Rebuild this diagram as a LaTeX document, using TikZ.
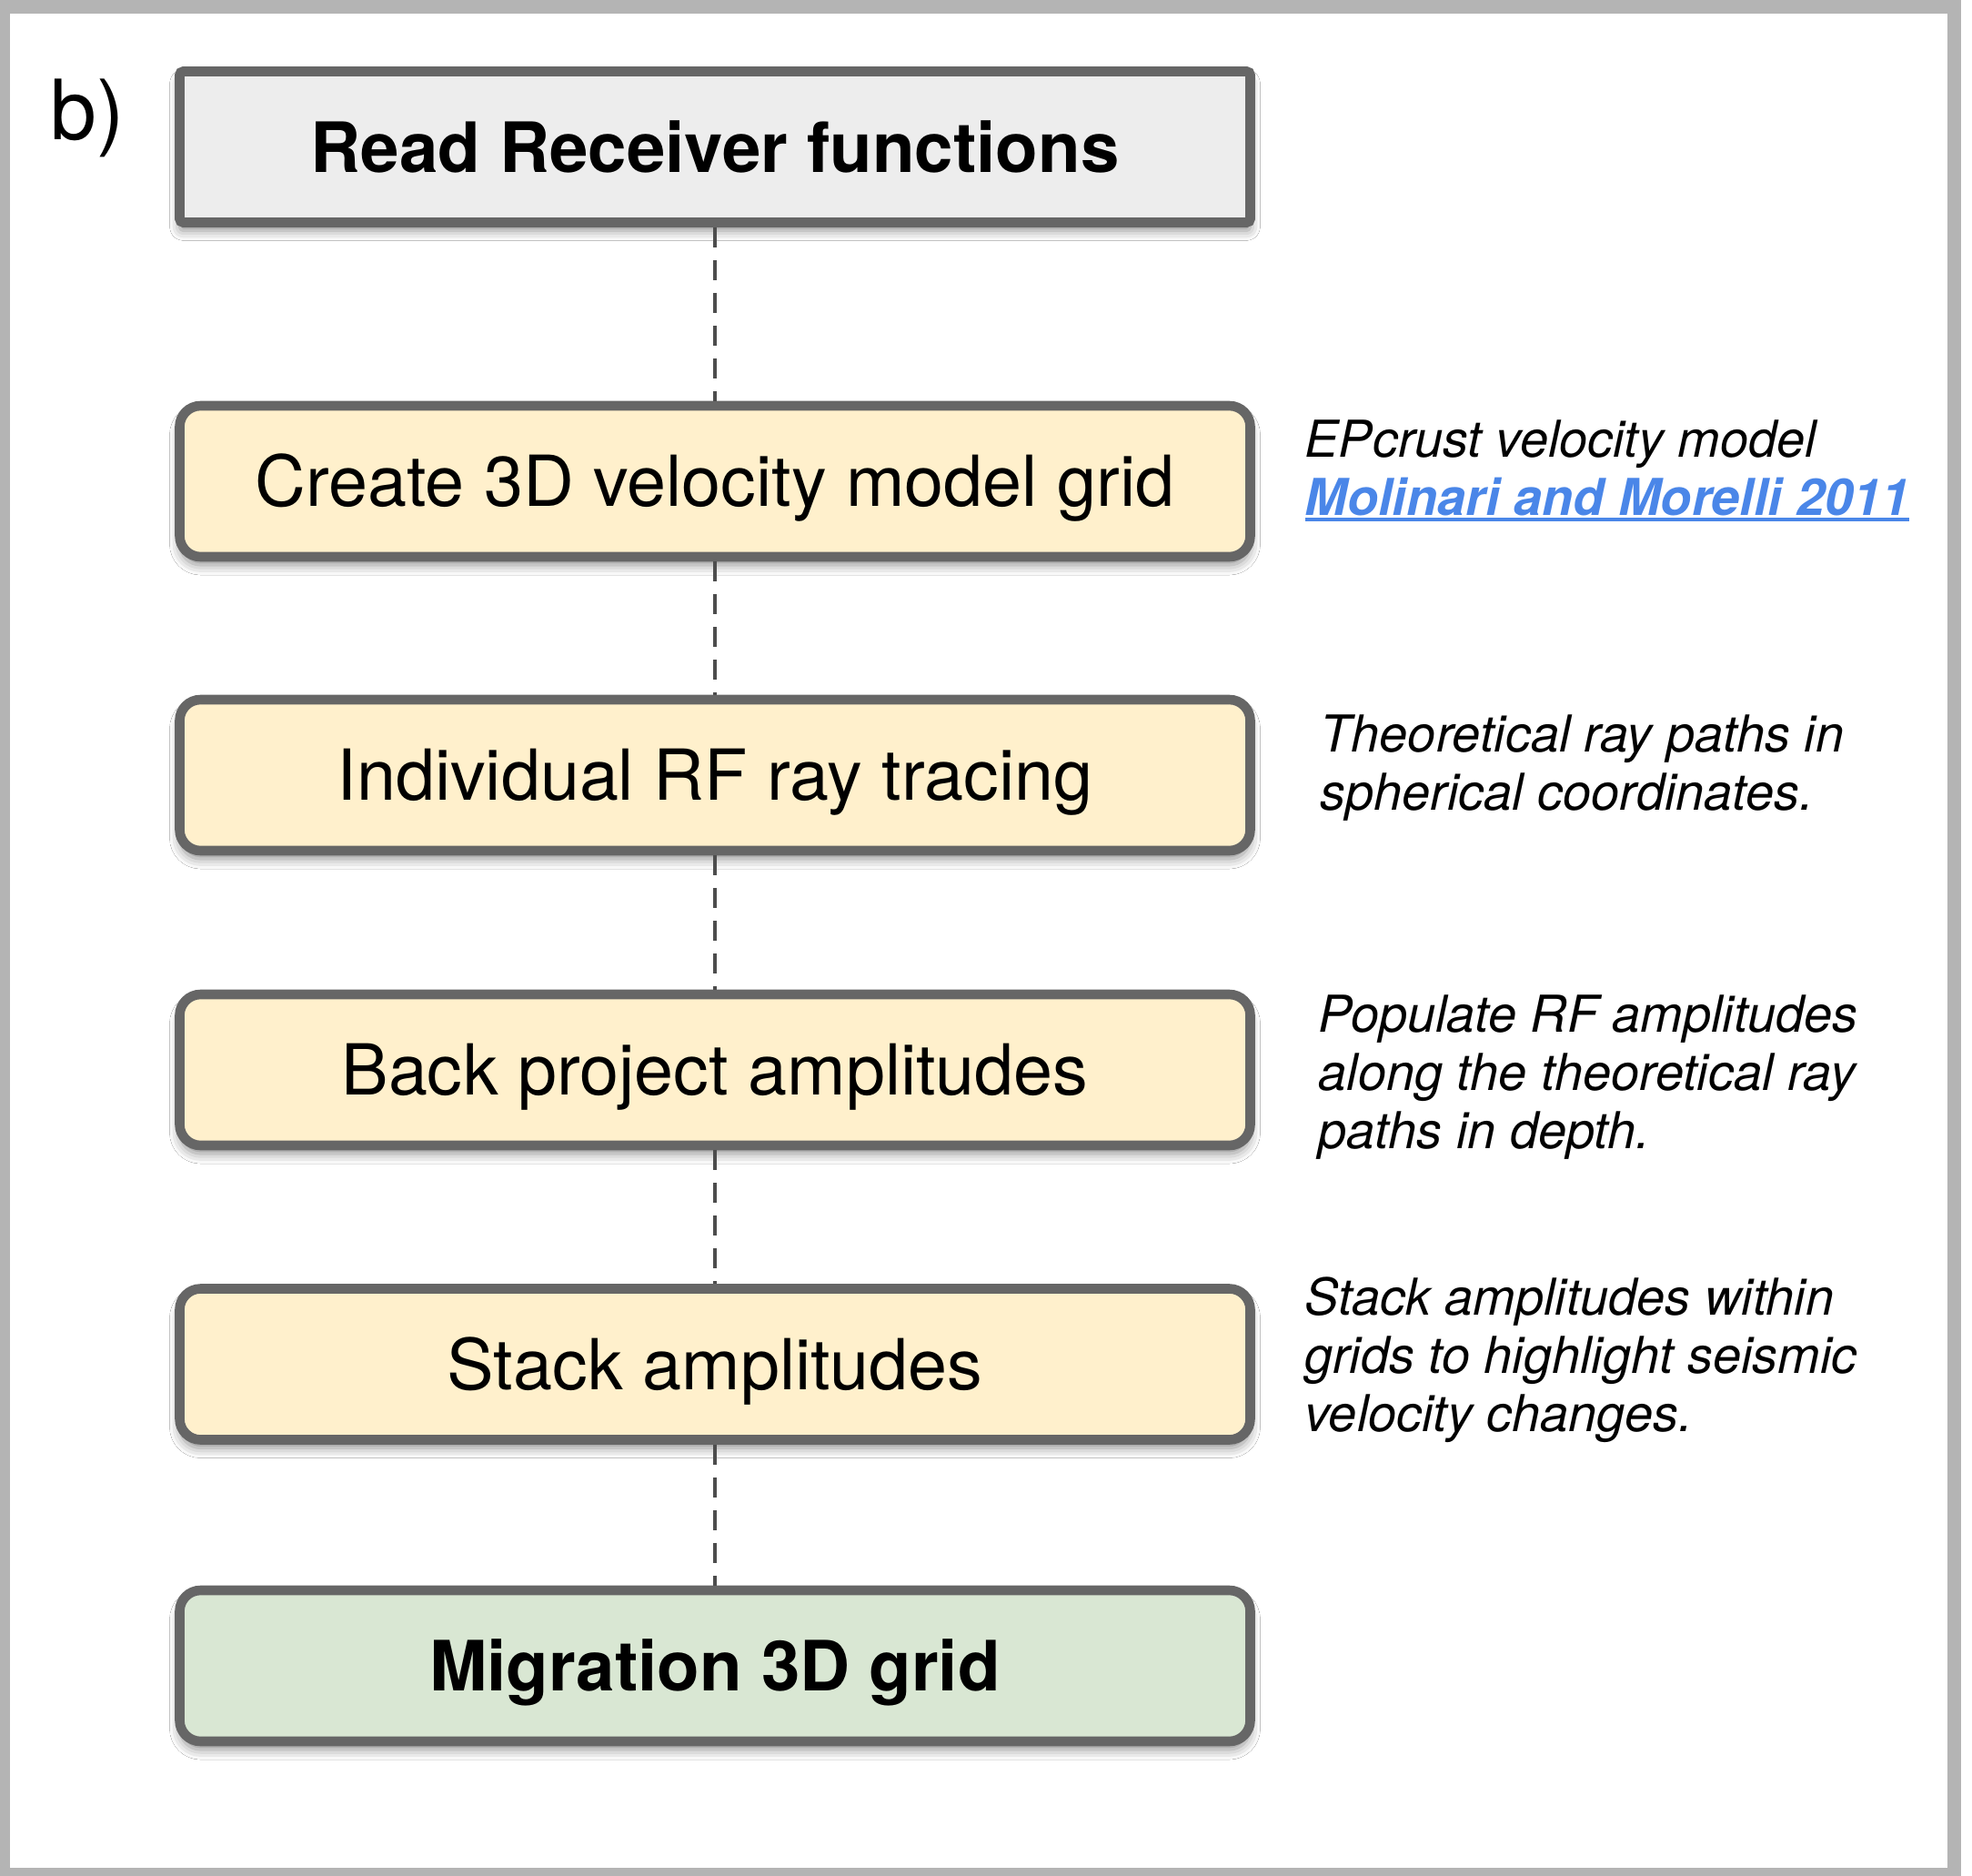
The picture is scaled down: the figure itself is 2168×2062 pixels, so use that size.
\documentclass[tikz,border=0pt]{standalone}
\usepackage{fontspec}
\setmainfont{TeX Gyre Heros}
\usepackage{xcolor}
\usetikzlibrary{shadows.blur}
\definecolor{framegray}{HTML}{B4B4B4}
\definecolor{boxgray}{HTML}{666666}
\definecolor{readfill}{HTML}{EDEDED}
\definecolor{stepfill}{HTML}{FFF0CC}
\definecolor{migrfill}{HTML}{D9E7D3}
\definecolor{dashgray}{HTML}{4D4D4D}
\definecolor{linkblue}{HTML}{4A86E8}
\newcommand{\linkline}[1]{\setbox0=\hbox{#1}\rlap{\rule[-0.7mm]{\wd0}{0.4mm}}\box0}

\begin{document}
\begin{tikzpicture}[x=0.1mm, y=-0.1mm,
		stepbox/.style={draw=boxgray, line width=1.06mm, rounded corners=2.3mm, minimum width=117.7mm, minimum height=16.6mm, inner sep=0pt, text height=15.8pt, text depth=0pt, font=\fontsize{22}{26}\selectfont, blur shadow={shadow xshift=0mm, shadow yshift=-0.9mm, shadow blur radius=1.1mm, shadow opacity=45}},
		note/.style={anchor=base west, align=left, inner sep=0pt, font=\fontsize{15.9}{18.2}\selectfont\itshape},
		link/.style={draw=dashgray, line width=0.4mm, dash pattern=on 2.2mm off 1.4mm},
	]
		\fill[framegray] (0,0) rectangle (2156,2062);
		\fill[white] (11,15) rectangle (2141,2053);
		\useasboundingbox (0,0) rectangle (2168,2062);

		\node[anchor=base west, inner sep=0pt, font=\fontsize{26}{30}\selectfont] (panel) at (55,153) {b)};

		\node[stepbox, fill=readfill, rounded corners=0.4mm, font=\fontsize{21.7}{26}\selectfont\bfseries] (read) at (786,161.5) {Read Receiver functions};
		\node[stepbox, fill=stepfill] (velgrid) at (786,529) {Create 3D velocity model grid};
		\node[stepbox, fill=stepfill] (raytrace) at (786,852) {Individual RF ray tracing};
		\node[stepbox, fill=stepfill] (backproj) at (786,1176) {Back project amplitudes};
		\node[stepbox, fill=stepfill] (stackamp) at (786,1499.5) {Stack amplitudes};
		\node[stepbox, fill=migrfill, font=\fontsize{21.7}{26}\selectfont\bfseries] (migrate) at (786,1831) {Migration 3D grid};

		\node[note] (epcrust) at (1434,566) {EPcrust velocity model\\{\bfseries\color{linkblue}\linkline{Molinari and Morelli 2011}}};
		\node[note] (raynote) at (1451,890) {Theoretical ray paths in\\spherical coordinates.};
		\node[note] (popnote) at (1449,1262) {Populate RF amplitudes\\along the theoretical ray\\paths in depth.};
		\node[note] (stacknote) at (1434,1573) {Stack amplitudes within\\grids to highlight seismic\\velocity changes.};

		\draw[link] (read) -- (velgrid);
		\draw[link] (velgrid) -- (raytrace);
		\draw[link] (raytrace) -- (backproj);
		\draw[link] (backproj) -- (stackamp);
		\draw[link] (stackamp) -- (migrate);
	\end{tikzpicture}
\end{document}
